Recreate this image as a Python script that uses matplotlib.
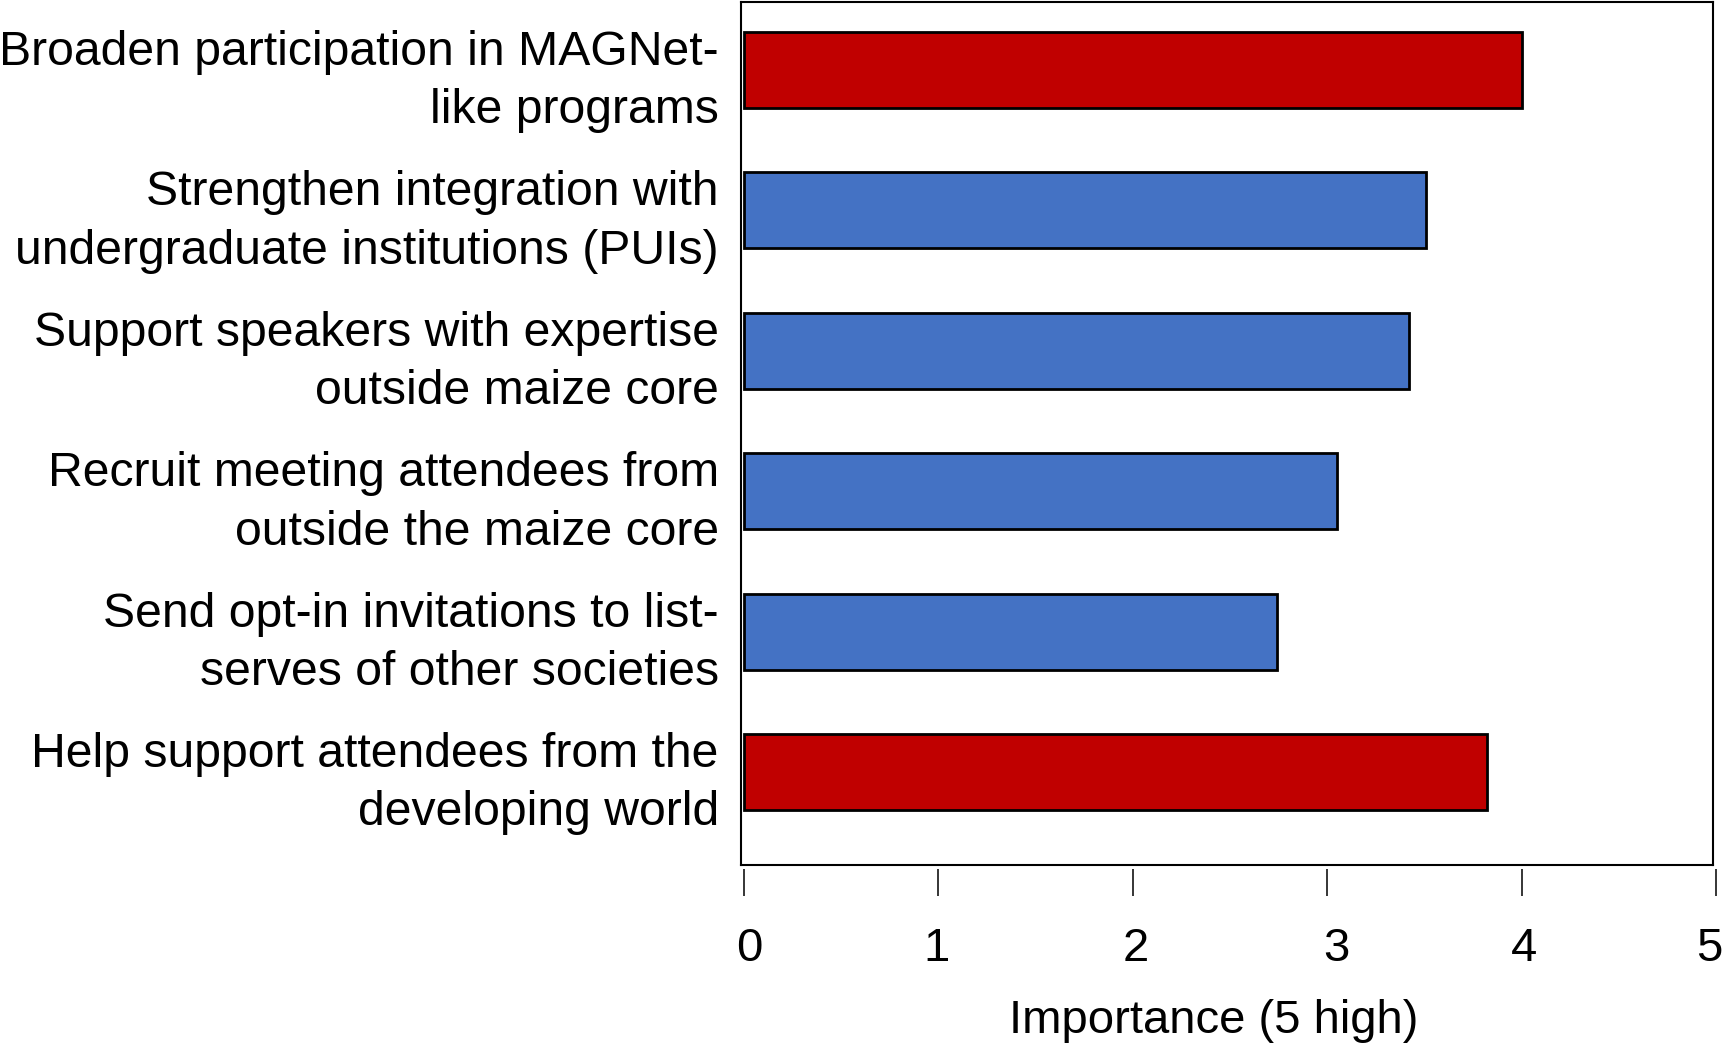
import matplotlib
matplotlib.use("Agg")
import matplotlib.pyplot as plt
import matplotlib.transforms as mtransforms

categories = [
    "Broaden participation in MAGNet-\nlike programs",
    "Strengthen integration with\nundergraduate institutions (PUIs)",
    "Support speakers with expertise\noutside maize core",
    "Recruit meeting attendees from\noutside the maize core",
    "Send opt-in invitations to list-\nserves of other societies",
    "Help support attendees from the\ndeveloping world",
]
values = [4.00, 3.51, 3.42, 3.05, 2.74, 3.82]
bar_colors = ["#C00000", "#4472C4", "#4472C4", "#4472C4", "#4472C4", "#C00000"]
xticks = [0, 1, 2, 3, 4, 5]
xlabel = "Importance (5 high)"

plt.rcParams['font.family'] = ['Liberation Sans', 'DejaVu Sans']

W, H = 1725, 1044
fig = plt.figure(figsize=(W / 100, H / 100), dpi=100)

ax = fig.add_axes([741 / W, 1 - 865 / H, (1713 - 741) / W, (865 - 2) / H])
ypos = list(range(len(categories)))
ax.barh(ypos, values, height=0.54, left=0, color=bar_colors,
        edgecolor="black", linewidth=2.0)
ax.set_xlim(-0.015, 4.985)
ax.set_ylim(5.662, -0.484)
ax.set_xticks([])
ax.set_yticks(ypos)
ax.set_yticklabels(categories, fontsize=34.7, ha='right', multialignment='right',
                   linespacing=1.38)
ax.tick_params(axis='y', length=0, pad=16)
for s in ax.spines.values():
    s.set_linewidth(1.5)
    s.set_color('black')

# separate tick axis below frame
axt = fig.add_axes([744 / W, 1 - 869 / H, (1716 - 744) / W, 0.0001])
axt.set_xlim(0, 5)
axt.set_xticks(xticks)
axt.set_xticklabels([str(t) for t in xticks], fontsize=34)
axt.set_yticks([])
for s in axt.spines.values():
    s.set_visible(False)
axt.patch.set_visible(False)
axt.tick_params(axis='x', direction='out', length=19.5, width=1.1, pad=22)

# small label offsets as in the reference (pixels)
shifts = [5, -2, 3, 9, 2, -7]
for lab, dx in zip(axt.get_xticklabels(), shifts):
    lab.set_transform(lab.get_transform() +
                      mtransforms.ScaledTranslation(dx / 100, 0, fig.dpi_scale_trans))

fig.text(1214 / W, 1 - 1033 / H, xlabel, fontsize=34, ha='center', va='baseline')

fig.savefig("out.png", dpi=100)
